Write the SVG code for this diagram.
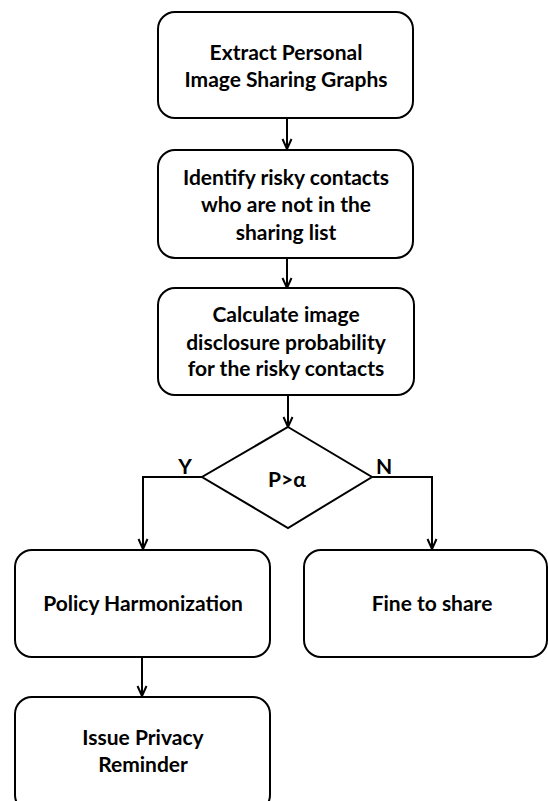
<svg xmlns="http://www.w3.org/2000/svg" width="548" height="801" viewBox="0 0 548 801">
  <defs>
    <marker id="arrow" viewBox="0 0 12 12" refX="11" refY="6" markerWidth="12" markerHeight="12" markerUnits="userSpaceOnUse" orient="auto">
      <path d="M1,1.5 L11,6 L1,10.5" fill="none" stroke="#000" stroke-width="2"/>
    </marker>
  </defs>
  <style>
    .box { fill: #fff; stroke: #000; stroke-width: 2; }
    .lbl { font-family: Lato, "Liberation Sans", sans-serif; font-weight: bold; font-size: 21px; fill: #000; text-anchor: middle; }
    .edge { fill: none; stroke: #000; stroke-width: 2; marker-end: url(#arrow); }
  </style>
  <rect width="548" height="801" fill="#fff"/>

  <g id="connectors">
    <path class="edge" d="M287,118 V149"/>
    <path class="edge" d="M287,258 V288"/>
    <path class="edge" d="M288,395 V427"/>
    <path class="edge" d="M202,477 H143 V549"/>
    <path class="edge" d="M372,477 H432 V549"/>
    <path class="edge" d="M142,657 V696"/>
    <text class="lbl" x="185" y="474">Y</text>
    <text class="lbl" x="384" y="474">N</text>
  </g>

  <g id="extract">
    <rect class="box" x="158" y="12" width="255" height="106" rx="17"/>
    <text class="lbl" x="286" y="60">Extract Personal</text>
    <text class="lbl" x="286" y="87">Image Sharing Graphs</text>
  </g>

  <g id="identify">
    <rect class="box" x="158" y="150" width="255" height="108" rx="17"/>
    <text class="lbl" x="286" y="185">Identify risky contacts</text>
    <text class="lbl" x="286" y="212">who are not in the</text>
    <text class="lbl" x="286" y="240">sharing list</text>
  </g>

  <g id="calculate">
    <rect class="box" x="158" y="288" width="256" height="107" rx="17"/>
    <text class="lbl" x="286" y="322">Calculate image</text>
    <text class="lbl" x="286" y="350">disclosure probability</text>
    <text class="lbl" x="286" y="376">for the risky contacts</text>
  </g>

  <g id="decision">
    <polygon class="box" points="288,427 372,477 288,528 202,477"/>
    <text class="lbl" x="287" y="487">P&gt;α</text>
  </g>

  <g id="harmonize">
    <rect class="box" x="15" y="550" width="255" height="107" rx="17"/>
    <text class="lbl" x="143" y="611">Policy Harmonization</text>
  </g>

  <g id="fine">
    <rect class="box" x="304" y="550" width="243" height="107" rx="17"/>
    <text class="lbl" x="432" y="611">Fine to share</text>
  </g>

  <g id="reminder">
    <rect class="box" x="15" y="697" width="255" height="115" rx="17"/>
    <text class="lbl" x="143" y="745">Issue Privacy</text>
    <text class="lbl" x="143" y="772">Reminder</text>
  </g>
</svg>
